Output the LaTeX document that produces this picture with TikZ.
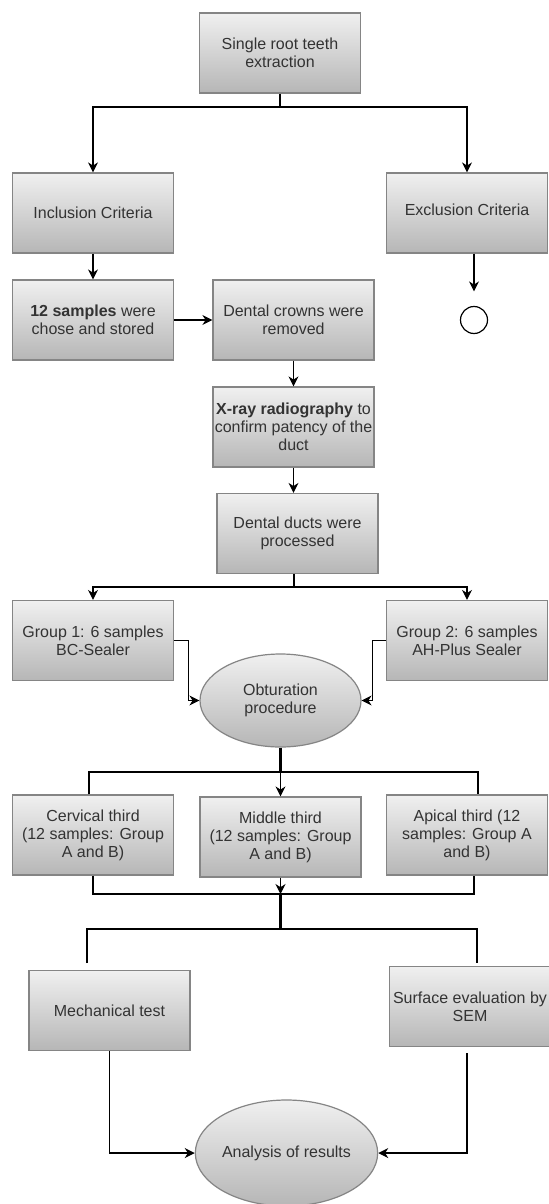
\documentclass[tikz,border=0pt]{standalone}
\usepackage{fontspec}
\setmainfont{Liberation Sans}
\usetikzlibrary{arrows.meta}
\usetikzlibrary{shapes.geometric}
\usetikzlibrary{calc}

\definecolor{boxtop}{HTML}{F0F0F0}
\definecolor{boxbot}{HTML}{B6B6B6}
\definecolor{boxline}{HTML}{858585}
\definecolor{boxtext}{HTML}{333333}

\tikzset{
  stepbox/.style={rectangle, draw=boxline, line width=0.6pt, top color=boxtop, bottom color=boxbot,
    minimum width=80.5pt, minimum height=40pt, inner sep=0pt, align=center, text=boxtext,
    font=\fontsize{8}{9}\selectfont},
  roundbox/.style={stepbox, ellipse},
  flow/.style={line width=0.55pt, -{Stealth[length=5pt,width=5pt,inset=1.6pt]}},
  link/.style={line width=0.55pt},
  bus/.style={line width=1.2pt},
}

\begin{document}
\begin{tikzpicture}[x=0.5pt, y=-0.5pt]
    \fill[white] (0,0) rectangle (548,1204);
    \useasboundingbox (0,0) rectangle (548,1204);
    % boxes
    \node[stepbox] (extr) at (280,53) {Single root teeth\\extraction};
    \node[stepbox] (incl) at (93,213) {Inclusion Criteria};
    \node[stepbox] (excl) at (467,213) {\raisebox{3pt}{Exclusion Criteria}};
    \node[circle, draw=black, line width=0.6pt, minimum size=13.5pt, inner sep=0pt] (stop) at (474,320) {};
    \node[stepbox] (samp) at (93,320) {\textbf{12 samples} were\\chose and stored};
    \node[stepbox] (crown) at (293.5,320) {Dental crowns were\\removed};
    \node[stepbox] (xray) at (293.5,427) {\textbf{X-ray radiography} to\\confirm patency of the\\duct};
    \node[stepbox] (duct) at (297.5,533.5) {Dental ducts were\\processed};
    \node[stepbox] (grpa) at (93,640.5) {Group 1: 6 samples\\BC-Sealer};
    \node[stepbox] (grpb) at (467,640.5) {Group 2: 6 samples\\AH-Plus Sealer};
    \node[roundbox, minimum height=46.5pt] (obtu) at (280.5,700.5) {Obturation\\procedure};
    \node[stepbox] (cerv) at (93,835) {Cervical third\\(12 samples: Group\\A and B)};
    \node[stepbox] (midl) at (280.5,837) {Middle third\\(12 samples: Group\\A and B)};
    \node[stepbox] (apic) at (467,835) {Apical third (12\\samples: Group A\\and B)};
    \node[stepbox] (mech) at (109.5,1010.5) {Mechanical test};
    \node[stepbox] (surf) at (470,1006.5) {Surface evaluation by\\SEM};
    \node[roundbox, minimum height=53pt] (anal) at (286.5,1153) {Analysis of results};
    % connectors
    \coordinate (s1) at (280,107);
    \draw[link] (extr) -- (s1);
    \draw[flow] (s1) -| (incl);
    \draw[flow] (s1) -| (excl);
    \draw[flow] (excl.south -| stop) -- ($(stop.north)+(0,-14.5)$);
    \draw[flow] (incl) -- (samp);
    \draw[flow] (samp) -- (crown);
    \draw[flow] (crown) -- (xray);
    \draw[flow] (xray) -- (xray.south |- duct.north);
    \coordinate (s2) at (294,587);
    \draw[link] (duct.south -| s2) -- (s2);
    \draw[flow] (s2) -| (grpa);
    \draw[flow] (s2) -| (grpb);
    \draw[flow] (grpa.east) -- ++(14,0) |- (obtu.west);
    \draw[flow] (grpb.west) -- ++(-13,0) |- (obtu.east);
    \coordinate (s3) at (280.5,772);
    \draw[bus] (obtu.south) -- (s3);
    \draw[bus] ([xshift=-2pt]cerv.north) |- (s3) -| ([xshift=5.5pt]apic.north);
    \draw[flow] (s3) -- (midl);
    \coordinate (s4) at (280.5,894);
    \draw[bus] (cerv.south) |- (s4) -| ([xshift=3.5pt]apic.south);
    \draw[flow] (midl) -- (s4);
    \coordinate (s5) at (280.5,929);
    \coordinate (m1) at (87,963);
    \coordinate (m2) at (477,963);
    \draw[bus] (s4) -- (s5);
    \draw[bus] (m1) |- (s5) -| (m2);
    \draw[flow] (mech) |- (anal);
    \draw[flow] ([xshift=-1.5pt,yshift=-3pt]surf.south) |- (anal.east);
\end{tikzpicture}
\end{document}
